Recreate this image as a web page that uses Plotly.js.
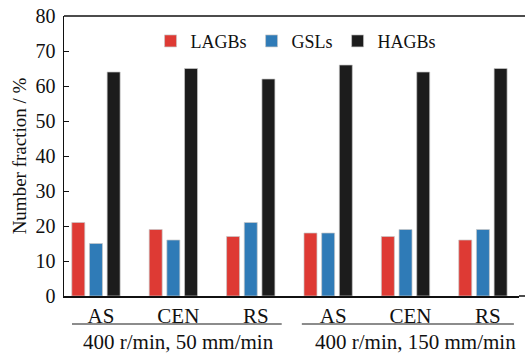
<!DOCTYPE html>
<html><head><meta charset="utf-8">
<script src="https://cdn.plot.ly/plotly-3.0.1.min.js"></script>
<style>html,body{margin:0;padding:0;background:#fff;overflow:hidden}#c{width:525px;height:354px}</style>
</head><body><div id="c"></div>
<script>
const categories = ["AS","CEN","RS","AS ","CEN ","RS "];
const tickLabels = ["AS","CEN","RS","AS","CEN","RS"];
const groupLabels = ["400 r/min, 50 mm/min","400 r/min, 150 mm/min"];
const lagbs = [21,19,17,18,17,16];
const gsls  = [15,16,21,18,19,19];
const hagbs = [64,65,62,66,64,65];

const F = "Liberation Serif, Times New Roman, serif";
const mk = (name, y, color) => ({
  type:"bar", name, x:categories, y,
  marker:{color, line:{color:"rgba(200,200,200,0.7)", width:1}}
});
const data = [mk("LAGBs",lagbs,"#de3a34"), mk("GSLs",gsls,"#2f7bb7"), mk("HAGBs",hagbs,"#1c1c1c")];

const layout = {
  width:525, height:354,
  margin:{l:64, r:6, t:16, b:58},
  paper_bgcolor:"#fff", plot_bgcolor:"#fff",
  font:{family:F, size:20, color:"#111"},
  barmode:"group", bargap:0.315, bargroupgap:0.265,
  showlegend:true,
  legend:{orientation:"h", x:0.51, xanchor:"center", y:0.91, yanchor:"middle",
          font:{family:F, size:18, color:"#111"}, itemwidth:30, tracegroupgap:0, bgcolor:"rgba(0,0,0,0)"},
  xaxis:{type:"category", tickvals:categories, ticktext:tickLabels, range:[-0.413,5.466],
         showline:true, mirror:false, linecolor:"#111", linewidth:1.5, ticks:"", showgrid:false,
         ticklabelshift:5,
         tickfont:{family:F, size:21}, fixedrange:true},
  yaxis:{range:[0,80], dtick:10, showline:true, linecolor:"#111", linewidth:1.5, mirror:false,
         ticks:"inside", ticklen:5, tickcolor:"#111", showgrid:false, zeroline:false,
         ticklabelstandoff:3,
         tickfont:{family:F, size:20},
         title:{text:"Number fraction / %", font:{family:F, size:19}, standoff:4}},
  shapes:[
    {type:"line", xref:"paper", yref:"paper", x0:0, x1:1.0135, y0:1, y1:1, line:{color:"#111", width:1.5}},
    {type:"line", xref:"paper", yref:"paper", x0:1, x1:1.0135, y0:0, y1:0, line:{color:"#111", width:1.5}},
    {type:"line", xref:"x", yref:"paper", x0:-0.31, x1:2.4, y0:-0.1, y1:-0.1, line:{color:"#666", width:1.5}},
    {type:"line", xref:"x", yref:"paper", x0:2.66, x1:5.4, y0:-0.1, y1:-0.1, line:{color:"#666", width:1.5}}
  ],
  annotations:[
    {xref:"x", yref:"paper", x:1.06, y:-0.163, text:groupLabels[0], showarrow:false, yanchor:"middle", font:{family:F, size:21}},
    {xref:"x", yref:"paper", x:4.13, y:-0.163, text:groupLabels[1], showarrow:false, yanchor:"middle", font:{family:F, size:21}}
  ]
};
Plotly.newPlot("c", data, layout, {staticPlot:true, displayModeBar:false});
</script></body></html>
